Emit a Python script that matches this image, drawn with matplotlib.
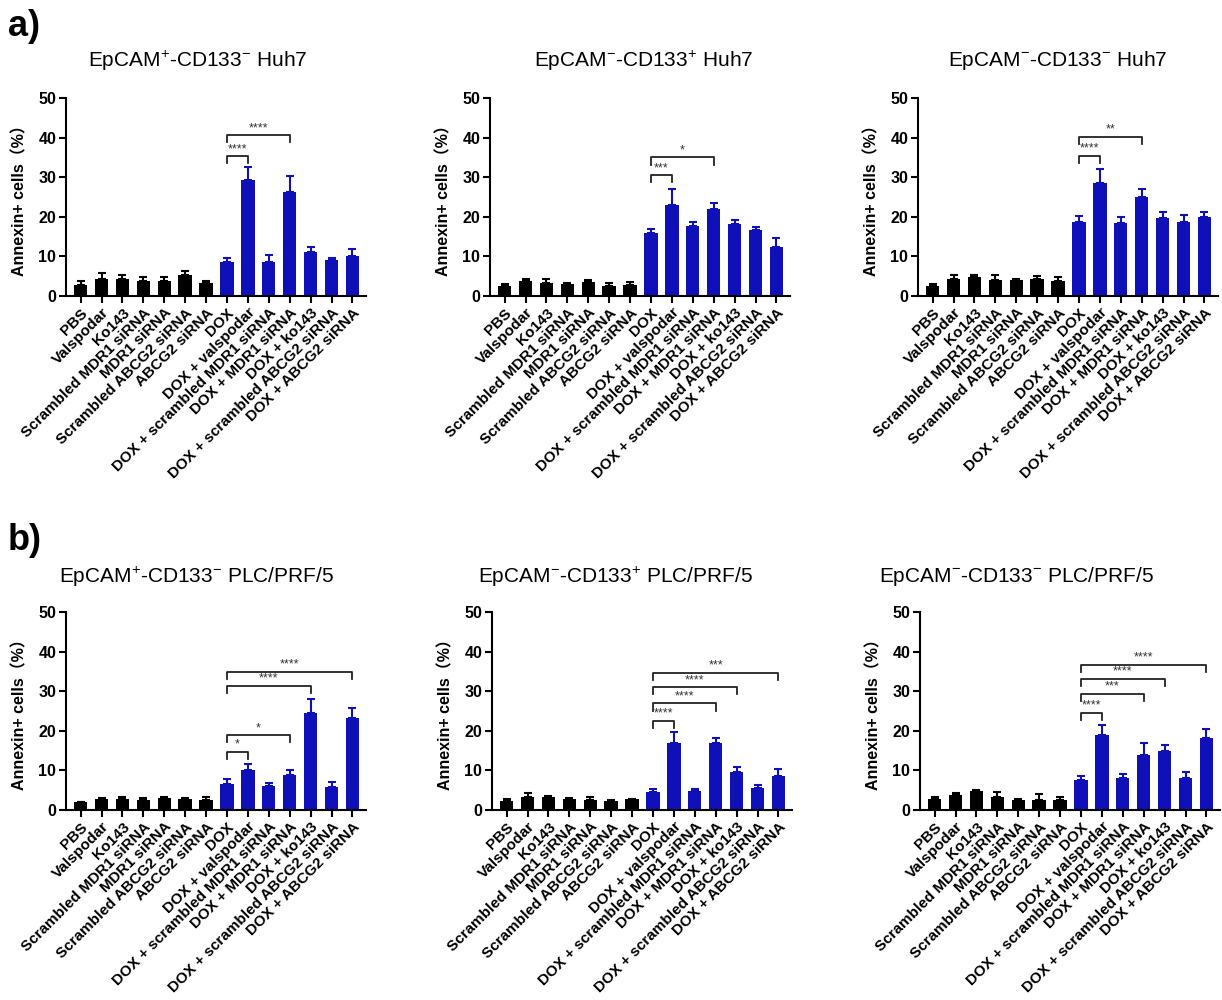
import numpy as np
import matplotlib
matplotlib.use('Agg')
import matplotlib.pyplot as plt

plt.rcParams['font.family'] = ['Liberation Sans', 'Noto Sans CJK SC', 'DejaVu Sans']
plt.rcParams['mathtext.fontset'] = 'custom'
plt.rcParams['mathtext.rm'] = 'Liberation Sans'
plt.rcParams['mathtext.bf'] = 'Liberation Sans:bold'

# groups on the x axis
labels = ['PBS', 'Valspodar', 'Ko143', 'Scrambled MDR1 siRNA', 'MDR1 siRNA',
          'Scrambled ABCG2 siRNA', 'ABCG2 siRNA', 'DOX', 'DOX + valspodar',
          'DOX + scrambled MDR1 siRNA', 'DOX + MDR1 siRNA', 'DOX + ko143',
          'DOX + scrambled ABCG2 siRNA', 'DOX + ABCG2 siRNA']

# a) Huh7
a1_mean = [2.8, 4.3, 4.2, 3.7, 3.7, 5.4, 3.2, 8.7, 29.2, 8.7, 26.3, 11.0, 9.1, 10.1]
a1_sd = [1.0, 1.5, 1.0, 1.1, 1.0, 0.8, 0.5, 1.0, 3.5, 1.6, 4.0, 1.3, 0.4, 1.8]
a2_mean = [2.5, 3.9, 3.3, 3.0, 3.5, 2.6, 2.9, 15.8, 23.0, 17.7, 21.9, 18.3, 16.7, 12.4]
a2_sd = [0.6, 0.3, 0.9, 0.3, 0.6, 0.8, 0.7, 1.2, 4.0, 1.1, 1.6, 0.8, 0.6, 2.3]
a3_mean = [2.6, 4.3, 4.7, 4.0, 4.0, 4.2, 3.9, 18.8, 28.6, 18.5, 24.9, 19.6, 18.8, 19.9]
a3_sd = [0.5, 1.0, 0.6, 1.4, 0.4, 0.9, 0.8, 1.4, 3.5, 1.5, 2.2, 1.6, 1.7, 1.2]

# b) PLC/PRF/5
b1_mean = [1.9, 2.7, 2.9, 2.6, 3.1, 2.8, 2.6, 6.5, 10.0, 6.0, 8.9, 24.5, 5.8, 23.3]
b1_sd = [0.2, 0.4, 0.3, 0.4, 0.3, 0.2, 0.8, 1.4, 1.5, 0.9, 1.1, 3.5, 1.2, 2.5]
b2_mean = [2.3, 3.2, 3.2, 2.8, 2.6, 2.3, 2.7, 4.5, 17.0, 4.9, 17.0, 9.7, 5.6, 8.7]
b2_sd = [0.6, 1.2, 0.4, 0.2, 0.7, 0.3, 0.2, 0.8, 2.7, 0.4, 1.3, 1.2, 0.8, 1.6]
b3_mean = [2.7, 3.8, 4.8, 3.2, 2.5, 2.6, 2.6, 7.7, 18.9, 8.1, 14.0, 14.9, 8.0, 18.1]
b3_sd = [0.5, 0.6, 0.3, 1.3, 0.3, 1.4, 0.6, 0.9, 2.5, 0.9, 3.0, 1.4, 1.6, 2.3]

# significance brackets from DOX (index 7): (end index, height, stars)
a1_sig = [(8, 35.3, '****'), (10, 40.6, '****')]
a2_sig = [(8, 30.5, '***'), (10, 35.0, '*')]
a3_sig = [(8, 35.4, '****'), (10, 40.2, '**')]
b1_sig = [(8, 14.7, '*'), (10, 18.9, '*'), (11, 31.3, '****'), (13, 34.9, '****')]
b2_sig = [(8, 22.6, '****'), (10, 26.9, '****'), (11, 31.0, '****'), (13, 34.6, '***')]
b3_sig = [(8, 24.5, '****'), (10, 29.3, '***'), (11, 33.2, '****'), (13, 36.7, '****')]

titles = [r'EpCAM$^{+}$-CD133$^{-}$ Huh7', r'EpCAM$^{-}$-CD133$^{+}$ Huh7',
          r'EpCAM$^{-}$-CD133$^{-}$ Huh7',
          r'EpCAM$^{+}$-CD133$^{-}$ PLC/PRF/5', r'EpCAM$^{-}$-CD133$^{+}$ PLC/PRF/5',
          r'EpCAM$^{-}$-CD133$^{-}$ PLC/PRF/5']

blue = '#1010b8'
W, H = 1222, 1000
fig = plt.figure(figsize=(W / 100, H / 100), dpi=100)

panels = [
    (a1_mean, a1_sd, a1_sig, 66, 98, 198, 61),
    (a2_mean, a2_sd, a2_sig, 490, 98, 644, 61),
    (a3_mean, a3_sd, a3_sig, 918, 98, 1058, 61),
    (b1_mean, b1_sd, b1_sig, 66, 612, 197, 577),
    (b2_mean, b2_sd, b2_sig, 492, 612, 616, 577),
    (b3_mean, b3_sd, b3_sig, 920, 612, 1017, 577),
]

x = np.arange(len(labels))
colors = ['black'] * 7 + [blue] * 7

for i, (mean, sd, sig, left, top, tx, ty) in enumerate(panels):
    ax = fig.add_axes([left / W, 1 - (top + 198) / H, 300 / W, 198 / H])
    ax.bar(x, mean, width=0.64, color=colors, zorder=2)
    for xi, m, s, c in zip(x, mean, sd, colors):
        ax.errorbar(xi, m, yerr=[[0], [s]], color=c, capsize=3.2,
                    elinewidth=1.5, capthick=1.5, zorder=1)
    for end, h, stars in sig:
        ax.plot([7, 7, end, end], [h - 1.8, h, h, h - 1.8], color='#222222', lw=1.3,
                clip_on=False)
        ax.text((7 + end) / 2, h + 0.3, stars, ha='center', va='bottom',
                fontsize=9, color='#333333')
    ax.set_xlim(-0.7, 13.65)
    ax.set_ylim(0, 50)
    ax.set_yticks([0, 10, 20, 30, 40, 50])
    ax.set_xticks(x)
    ax.set_xticklabels(labels, rotation=45, ha='right', rotation_mode='anchor',
                       fontsize=11, fontweight='bold')
    for t in ax.get_yticklabels():
        t.set_fontsize(11.5)
        t.set_fontweight('bold')
    ax.spines['top'].set_visible(False)
    ax.spines['right'].set_visible(False)
    ax.spines['left'].set_linewidth(1.5)
    ax.spines['bottom'].set_linewidth(1.5)
    ax.tick_params(width=1.5, length=5, pad=2)
    ax.set_ylabel('Annexin+ cells（%）', fontsize=11.5, fontweight='bold')
    ax.yaxis.set_label_coords(-0.13, 0.5)
    fig.text(tx / W, 1 - ty / H, titles[i], ha='center', va='center', fontsize=15)

fig.text(8 / W, 1 - 26 / H, 'a)', fontsize=26, fontweight='bold', va='center')
fig.text(8 / W, 1 - 540 / H, 'b)', fontsize=26, fontweight='bold', va='center')

plt.savefig('out.png', dpi=100)
